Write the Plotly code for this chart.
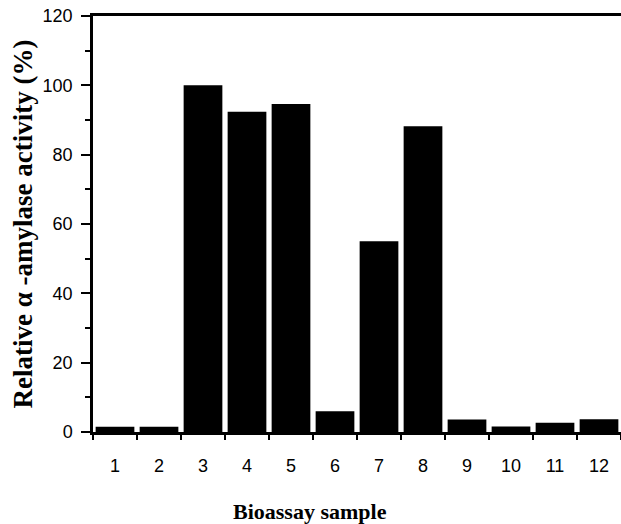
import plotly.graph_objects as go

samples = ["1", "2", "3", "4", "5", "6", "7", "8", "9", "10", "11", "12"]
activity = [1.5, 1.5, 100, 92.4, 94.6, 6.0, 55.0, 88.2, 3.6, 1.6, 2.7, 3.7]

fig = go.Figure()
fig.add_trace(go.Bar(x=samples, y=activity, marker=dict(color="black", line=dict(width=0)),
                     width=0.88))

fig.update_layout(
    width=621, height=524,
    margin=dict(l=93, r=0, t=16, b=92),
    plot_bgcolor="white", paper_bgcolor="white",
    showlegend=False,
    font=dict(family="Liberation Sans, Arial", color="black", size=19),
)
fig.update_xaxes(
    type="category",
    range=[-0.5, 11.5],
    automargin=False,
    showline=True, linecolor="black", linewidth=2.5, mirror=True,
    ticks="outside", tickson="boundaries", ticklen=5, tickwidth=1.5, tickcolor="black",
    showgrid=False, zeroline=False,
    tickfont=dict(size=18), ticklabelstandoff=16,
)
fig.update_yaxes(
    range=[0, 120],
    automargin=False,
    tickvals=[0, 20, 40, 60, 80, 100, 120],
    showline=True, linecolor="black", linewidth=2.5,
    ticks="outside", ticklen=9, tickwidth=1.5, tickcolor="black",
    minor=dict(tickvals=[10, 30, 50, 70, 90, 110], ticks="outside", ticklen=5, tickwidth=1.5, tickcolor="black"),
    showgrid=False, zeroline=False,
    tickfont=dict(size=18), ticklabelstandoff=5,
    title=dict(text="Relative α -amylase activity (%)", font=dict(family="Liberation Serif, Times New Roman", size=27, weight="bold"), standoff=3),
)
fig.add_annotation(
    text="<b>Bioassay sample</b>", xref="paper", yref="paper",
    x=0.411, y=-0.19, xanchor="center", yanchor="middle", showarrow=False,
    font=dict(family="Liberation Serif, Times New Roman", size=22, color="black"),
)

fig.write_html("out.html", config={"displayModeBar": False},
               post_script="document.body.style.margin='0';document.body.style.overflow='hidden';")
